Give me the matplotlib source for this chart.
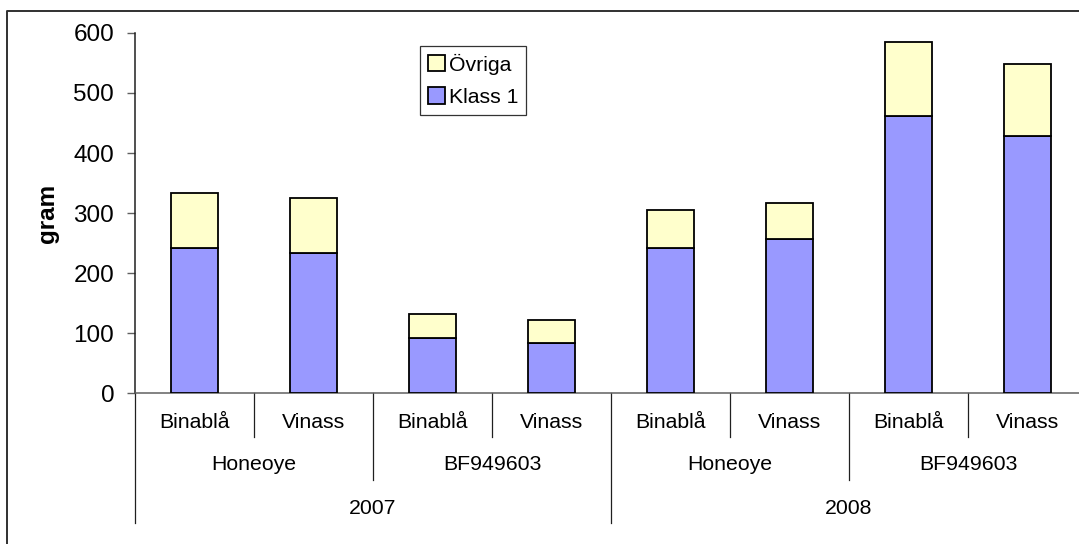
import matplotlib
matplotlib.use("Agg")
import matplotlib.pyplot as plt
from matplotlib.lines import Line2D
import matplotlib.transforms as mtransforms

plt.rcParams['font.family'] = ['Liberation Sans', 'DejaVu Sans']

# ---- data ----
treatments = ["Binablå", "Vinass", "Binablå", "Vinass", "Binablå", "Vinass", "Binablå", "Vinass"]
varieties = ["Honeoye", "BF949603", "Honeoye", "BF949603"]
years = ["2007", "2008"]
klass1 = [241, 233, 92, 83, 241, 256, 461, 429]
ovriga = [93, 92, 40, 38, 64, 61, 124, 119]
series_names = ["Övriga", "Klass 1"]
color_klass1 = "#9999FF"
color_ovriga = "#FFFFCC"

W, H = 1079, 544
fig = plt.figure(figsize=(W / 100, H / 100), dpi=100)

def fx(px):
    return px / W

def fy(py):
    return 1 - py / H

ax_left, ax_right, ax_top, ax_bottom = 135, 1087, 33, 393
ax = fig.add_axes([fx(ax_left), fy(ax_bottom), fx(ax_right - ax_left), (ax_bottom - ax_top) / H])

x = list(range(len(klass1)))
lw = 1.3
b1 = ax.bar(x, klass1, width=0.4, color=color_klass1, edgecolor="black", linewidth=lw, zorder=3)
b2 = ax.bar(x, ovriga, width=0.4, bottom=klass1, color=color_ovriga, edgecolor="black", linewidth=lw, zorder=3)

ax.set_xlim(-0.5, len(klass1) - 0.5)
ax.set_ylim(0, 600)
ax.set_yticks([0, 100, 200, 300, 400, 500, 600])
ax.tick_params(axis="y", labelsize=17.5, length=6, width=1, color="#606060", pad=9, direction="out")
ax.set_xticks([])
for s in ["top", "right"]:
    ax.spines[s].set_visible(False)
ax.spines["left"].set_color("#202020")
ax.spines["left"].set_linewidth(1.1)
ax.spines["bottom"].set_color("#606060")
ax.spines["bottom"].set_linewidth(1.1)

ax.set_ylabel("gram", fontsize=17.5, fontweight="bold")
ax.yaxis.set_label_coords((59 - ax_left) / (ax_right - ax_left), 0.5)

# hierarchical category labels
trans = mtransforms.blended_transform_factory(ax.transData, fig.transFigure)
for i, t in enumerate(treatments):
    ax.text(i, fy(422), t, transform=trans, ha="center", va="center", fontsize=15.3, clip_on=False)
for j, v in enumerate(varieties):
    ax.text(2 * j + 0.5, fy(465), v, transform=trans, ha="center", va="center", fontsize=15.3, clip_on=False)
for k, yv in enumerate(years):
    ax.text(4 * k + 1.5, fy(509), yv, transform=trans, ha="center", va="center", fontsize=15.3, clip_on=False)

# separators
n = len(klass1)
for b in range(n + 1):
    xb = b - 0.5
    if b % 4 == 0:
        yend = 523
    elif b % 2 == 0:
        yend = 480
    else:
        yend = 437
    ax.add_line(Line2D([xb, xb], [fy(ax_bottom), fy(yend)], transform=trans,
                       color="#202020", linewidth=0.9, clip_on=False))

# legend
leg = fig.legend([b2, b1], series_names, loc="upper left",
                 bbox_to_anchor=(fx(419.5), fy(45.5)), bbox_transform=fig.transFigure,
                 borderaxespad=0, fontsize=15.3, frameon=True, fancybox=False,
                 edgecolor="black", handlelength=0.8, handleheight=0.8,
                 handletextpad=0.2, borderpad=0.38, labelspacing=0.6)
leg.get_frame().set_linewidth(0.9)

# outer frame
fig.add_artist(Line2D([fx(6.5), fx(6.5), fx(1079)], [fy(544), fy(10.5), fy(10.5)],
                      transform=fig.transFigure, color="#303030", linewidth=1.4))

fig.savefig("out.png", dpi=100)
